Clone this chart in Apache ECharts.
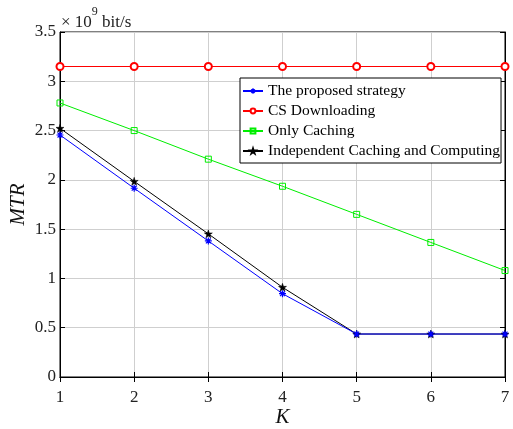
<!DOCTYPE html>
<html><head><meta charset="utf-8">
<script src="https://cdn.jsdelivr.net/npm/echarts@6/dist/echarts.min.js"></script>
<style>html,body{margin:0;padding:0;background:#fff}#c{width:513px;height:429px}</style>
</head><body><div id="c"></div>
<script>
const kValues = [1, 2, 3, 4, 5, 6, 7];
const proposed = [2.455, 1.915, 1.38, 0.845, 0.436, 0.436, 0.436];
const csDownloading = [3.15, 3.15, 3.15, 3.15, 3.15, 3.15, 3.15];
const onlyCaching = [2.78, 2.50, 2.21, 1.935, 1.65, 1.365, 1.08];
const independent = [2.523, 1.985, 1.452, 0.91, 0.436, 0.436, 0.436];
const seriesNames = ['The proposed strategy', 'CS Downloading', 'Only Caching', 'Independent Caching and Computing'];
const yTicks = [0, 0.5, 1, 1.5, 2, 2.5, 3, 3.5];

const FONT = 'Liberation Serif';
const asterisk = 'path://M5,0L5,10M0,5L10,5M1.5,1.5L8.5,8.5M8.5,1.5L1.5,8.5';
const star = 'path://M5,0L6.18,3.62L10,3.62L6.91,5.86L8.09,9.5L5,7.24L1.91,9.5L3.09,5.86L0,3.62L3.82,3.62Z';

function pts(arr){ return kValues.map((k,i)=>[k, arr[i]]); }

const chart = echarts.init(document.getElementById('c'), null, {renderer:'canvas'});
const axisCommon = {
  axisLine:{show:true, lineStyle:{color:'#000', width:1}},
  axisTick:{show:true, inside:true, length:5, lineStyle:{color:'#000'}},
};
chart.setOption({
  animation:false,
  backgroundColor:'#fff',
  grid:{left:60, right:8, top:32, bottom:52, outerBoundsMode:'none', containLabel:false,
        show:true, borderColor:'#000', borderWidth:1, backgroundColor:'transparent'},
  xAxis:[{
    type:'value', min:1, max:7, interval:1,
    name:'K', nameLocation:'middle', nameGap:30, nameMoveOverlap:false,
    nameTextStyle:{fontFamily:FONT, fontStyle:'italic', fontSize:21, color:'#111'},
    ...axisCommon,
    axisLabel:{fontFamily:FONT, fontSize:17, color:'#222', margin:12},
    splitLine:{show:true, lineStyle:{color:'#cfcfcf', width:1}}
  },{
    type:'value', min:1, max:7, interval:1, position:'top',
    ...axisCommon, axisLabel:{show:false}, splitLine:{show:false}
  }],
  yAxis:[{
    type:'value', min:yTicks[0], max:yTicks[yTicks.length-1], interval:0.5,
    name:'MTR', nameLocation:'middle', nameGap:31, nameRotate:90, nameMoveOverlap:false,
    nameTextStyle:{fontFamily:FONT, fontStyle:'italic', fontSize:21, color:'#111'},
    ...axisCommon,
    axisLabel:{fontFamily:FONT, fontSize:17, color:'#222', margin:4},
    splitLine:{show:true, lineStyle:{color:'#cfcfcf', width:1}}
  },{
    type:'value', min:0, max:3.5, interval:0.5, position:'right',
    ...axisCommon, axisLabel:{show:false}, splitLine:{show:false}
  }],
  legend:{
    orient:'vertical', left:240, top:78,
    backgroundColor:'#fff', borderColor:'#000', borderWidth:1,
    padding:[5,1,4,2], itemGap:4, itemWidth:20, itemHeight:6,
    textStyle:{fontFamily:FONT, fontSize:15.5, color:'#000'},
    data:seriesNames
  },
  graphic:[{
    type:'text', left:61, top:6,
    style:{
      text:'{a|× 10}{s|9}{a| bit/s}',
      rich:{
        a:{fontFamily:FONT, fontSize:17, fill:'#222', verticalAlign:'bottom', padding:[8,0,0,0]},
        s:{fontFamily:FONT, fontSize:12, fill:'#222', verticalAlign:'top', padding:[0,0,8,0]}
      }
    }
  }],
  series:[
    {name:seriesNames[1], type:'line', data:pts(csDownloading), symbol:'emptyCircle', symbolSize:7,
     lineStyle:{color:'#ff0000', width:1}, itemStyle:{color:'#ff0000', borderWidth:1}},
    {name:seriesNames[2], type:'line', data:pts(onlyCaching), symbol:'rect', symbolSize:6,
     lineStyle:{color:'#00ee00', width:1}, itemStyle:{color:'rgba(0,0,0,0)', borderColor:'#00ee00', borderWidth:1}},
    {name:seriesNames[3], type:'line', data:pts(independent), symbol:star, symbolSize:8,
     lineStyle:{color:'#000', width:1}, itemStyle:{color:'#000', borderColor:'#000', borderWidth:0.5}},
    {name:seriesNames[0], type:'line', data:pts(proposed), symbol:asterisk, symbolSize:7,
     lineStyle:{color:'#0000ff', width:1}, itemStyle:{color:'#0000ff', borderColor:'#0000ff', borderWidth:1.2}}
  ]
});
</script></body></html>
